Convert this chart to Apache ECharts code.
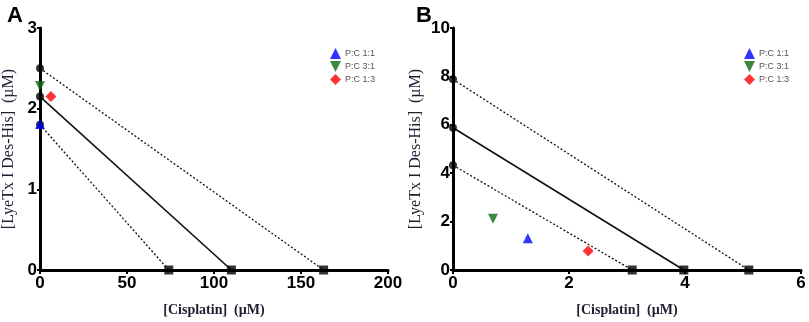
<!DOCTYPE html>
<html><head><meta charset="utf-8">
<script src="https://cdn.jsdelivr.net/npm/echarts@6/dist/echarts.min.js"></script>
<style>html,body{margin:0;padding:0;background:#fff}#c{width:809px;height:322px}</style>
</head><body><div id="c"></div>
<script>
// Panel A
const aYIntercepts = [2.5, 2.15, 1.8];      // circles on y-axis
const aXIntercepts = [163, 110, 74];        // squares on x-axis
const aLineTypes = ['dotted', 'solid', 'dotted'];
const aP11 = [[0, 1.81]];
const aP31 = [[0, 2.28]];
const aP13 = [[6.3, 2.15]];
const aXTicks = [0, 50, 100, 150, 200];
const aYTicks = [0, 1, 2, 3];
// Panel B
const bYIntercepts = [7.88, 5.88, 4.33];
const bXIntercepts = [5.1, 3.98, 3.09];
const bLineTypes = ['dotted', 'solid', 'dotted'];
const bP11 = [[1.29, 1.31]];
const bP31 = [[0.69, 2.12]];
const bP13 = [[2.33, 0.78]];
const bXTicks = [0, 2, 4, 6];
const bYTicks = [0, 2, 4, 6, 8, 10];

const seriesNames = ['P:C 1:1', 'P:C 3:1', 'P:C 1:3'];
const colors = ['#0000ff', '#0b6b12', '#ff0000'];
const symbols = ['triangle', 'path://M0,0 L10,0 L5,10 Z', 'diamond'];

const chart = echarts.init(document.getElementById('c'));
const tickFont = {color: '#000', fontWeight: 'bold', fontSize: 17, fontFamily: 'Liberation Sans, Arial'};
const nameFontX = {color: '#1f1f33', fontWeight: 'bold', fontSize: 14, fontFamily: 'Liberation Serif, Times New Roman'};
const nameFontY = {color: '#1f1f33', fontSize: 16, fontFamily: 'Liberation Serif, Times New Roman'};

function mkX(idx, ticks, gap) {
  return {gridIndex: idx, type: 'value', min: ticks[0], max: ticks[ticks.length-1], interval: ticks[1]-ticks[0],
    name: '[Cisplatin]  (\u00b5M)', nameLocation: 'middle', nameGap: gap, nameTextStyle: nameFontX,
    axisLine: {show: true, onZero: false, lineStyle: {color: '#000', width: 3}},
    axisTick: {show: true, length: 4, lineStyle: {color: '#000', width: 2}},
    axisLabel: Object.assign({margin: 5}, tickFont), splitLine: {show: false}};
}
function mkY(idx, ticks, gap) {
  return {gridIndex: idx, type: 'value', min: ticks[0], max: ticks[ticks.length-1], interval: ticks[1]-ticks[0],
    name: '[LyeTx I Des-His]  (\u00b5M)', nameLocation: 'middle', nameGap: gap, nameTextStyle: nameFontY,
    axisLine: {show: true, onZero: false, lineStyle: {color: '#000', width: 3}},
    axisTick: {show: true, length: 3, lineStyle: {color: '#000', width: 2}},
    axisLabel: Object.assign({margin: 3}, tickFont), splitLine: {show: false}};
}

const series = [];
function addPanel(idx, yI, xI, types, pts) {
  for (let i = 0; i < yI.length; i++) {
    series.push({type: 'line', xAxisIndex: idx, yAxisIndex: idx, data: [[0, yI[i]], [xI[i], 0]],
      symbol: 'none', silent: true, lineStyle: {color: '#111', width: types[i] === 'solid' ? 1.6 : 1.3, type: types[i] === 'solid' ? 'solid' : [2, 2]}, z: 2});
  }
  series.push({type: 'scatter', xAxisIndex: idx, yAxisIndex: idx, data: yI.map(v => [0, v]),
    symbol: 'circle', symbolSize: 8, itemStyle: {color: '#000'}, z: 5});
  series.push({type: 'scatter', xAxisIndex: idx, yAxisIndex: idx, data: xI.map(v => [v, 0]),
    symbol: 'rect', symbolSize: 9, itemStyle: {color: '#000'}, z: 5});
  for (let i = 0; i < 3; i++) {
    series.push({name: seriesNames[i], type: 'scatter', xAxisIndex: idx, yAxisIndex: idx, data: pts[i],
      symbol: symbols[i], symbolSize: i === 2 ? 11 : 10, itemStyle: {color: colors[i]}, z: 6});
  }
}
addPanel(0, aYIntercepts, aXIntercepts, aLineTypes, [aP11, aP31, aP13]);
addPanel(1, bYIntercepts, bXIntercepts, bLineTypes, [bP11, bP31, bP13]);

const legendBase = {orient: 'vertical', itemWidth: 11, itemHeight: 11, itemGap: 2, data: seriesNames.map((n, i) => ({name: n, icon: symbols[i]})),
  textStyle: {fontSize: 9, color: '#555', fontFamily: 'Liberation Sans, Arial', padding: [0, 0, 0, -1]}, selectedMode: false};

chart.setOption({
  animation: false,
  title: [
    {text: 'A', left: 2, top: 0, textStyle: {fontSize: 22, fontWeight: 'bold', color: '#000', fontFamily: 'Liberation Sans, Arial'}},
    {text: 'B', left: 411, top: 0, textStyle: {fontSize: 22, fontWeight: 'bold', color: '#000', fontFamily: 'Liberation Sans, Arial'}}
  ],
  grid: [
    {left: 39, top: 28, width: 349, height: 244},
    {left: 453, top: 28, width: 348, height: 245}
  ],
  xAxis: [mkX(0, aXTicks, 33), mkX(1, bXTicks, 33)],
  yAxis: [mkY(0, aYTicks, 23), mkY(1, bYTicks, 29)],
  legend: [
    Object.assign({left: 325, top: 43}, legendBase),
    Object.assign({left: 739, top: 43}, legendBase)
  ],
  series: series
});
</script></body></html>
